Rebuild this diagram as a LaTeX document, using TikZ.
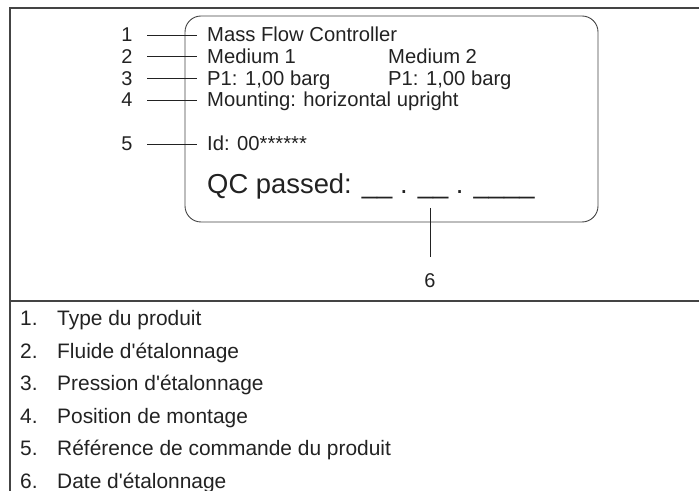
\documentclass[tikz,border=0pt]{standalone}
\usepackage{fontspec}
\setmainfont{Liberation Sans}
\definecolor{ink}{HTML}{222222}
\definecolor{rule}{HTML}{444444}
\begin{document}
\begin{tikzpicture}[x=1bp,y=-1bp,
  frame/.style={draw=rule, line width=1.4bp},
  lead/.style={draw=ink, line width=0.9bp},
  lbl/.style={inner sep=0, anchor=base west, text=ink, font=\fontsize{20.3}{22}\selectfont},
  num/.style={inner sep=0, text=ink, font=\fontsize{20}{22}\selectfont},
  qcstyle/.style={inner sep=0, anchor=base west, text=ink, font=\fontsize{27.5}{30}\selectfont},
  item/.style={inner sep=0, anchor=base west, text=ink, font=\fontsize{21}{24}\selectfont}]
\useasboundingbox (0,0) rectangle (699,491);
% outer frame
\draw[frame] (10,491) -- (10,8) -- (699,8);
\draw[frame] (10,301) -- (699,301);
% label
\draw[lead, draw=rule, rounded corners=16bp] (185,16) rectangle (598,222);
% label texts
\node[lbl] (t1) at (207,42) {Mass Flow Controller};
\node[lbl] (t2) at (207,63.7) {Medium 1};
\node[lbl] (t2b) at (388,63.7) {Medium 2};
\node[lbl] (t3) at (207,85.3) {P1: 1,00 barg};
\node[lbl] (t3b) at (388,85.3) {P1: 1,00 barg};
\node[lbl] (t4) at (207,107) {Mounting: horizontal upright};
\node[lbl] (t5) at (207,151) {Id: 00******};
\node[qcstyle] (qc) at (207,194) {QC passed: \_\_ . \_\_ . \_\_\_\_};
% callout numbers
\node[num] (n1) at (127,35) {1};
\node[num] (n2) at (127,56.7) {2};
\node[num] (n3) at (127,78.3) {3};
\node[num] (n4) at (127,100) {4};
\node[num] (n5) at (127,144) {5};
\node[num] (n6) at (430,281) {6};
% leader lines
\foreach \i/\y in {1/35,2/56.7,3/78.3,4/100,5/144}{
  \coordinate (a\i) at (147,\y);
  \coordinate (b\i) at (197,\y);
  \draw[lead] (a\i) -- (b\i);
}
\coordinate (c6) at (430,208);
\draw[lead] (c6) -- ([yshift=17bp]n6.north);
% legend
\foreach \i/\y/\t in {1/325.5/{Type du produit},2/358/{Fluide d\textquotesingle étalonnage},3/390.5/{Pression d\textquotesingle étalonnage},4/423/{Position de montage},5/455.5/{Référence de commande du produit},6/488/{Date d\textquotesingle étalonnage}}{
  \node[item] (k\i) at (20,\y) {\i.};
  \node[item] (d\i) at (57,\y) {\t};
}
\end{tikzpicture}
\end{document}
